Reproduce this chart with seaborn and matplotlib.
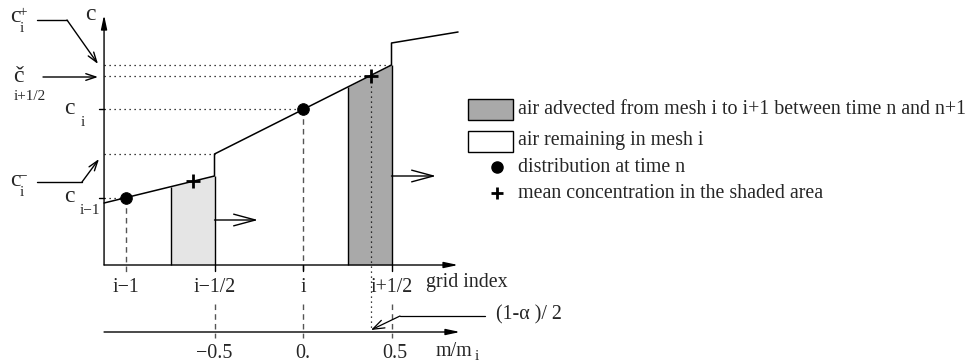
import matplotlib
matplotlib.use("Agg")
import matplotlib.pyplot as plt
import seaborn as sns
import numpy as np
import pandas as pd
from matplotlib.patches import Rectangle

# ---------------- data (grid-index units on x, concentration units on c) -------------
grid_pos = [-1.0, -0.5, 0.0, 0.5]
grid_labels = ["i\u22121", "i\u22121/2", "i", "i+1/2"]
m_ticks = [-0.5, 0.0, 0.5]
m_labels = ["\u22120.5", "0.", "0.5"]

# piecewise-linear profile (with jumps at the cell interfaces)
profile_x = [-1.124, -0.5, -0.5, 0.5, 0.5, 0.876]
profile_c = [0.62, 0.89, 1.11, 2.00, 2.22, 2.33]

dots_x = [-1.0, 0.0]          # distribution at time n
dots_c = [0.67, 1.56]
plus_x = [-0.621, 0.384]      # mean concentration in shaded areas
plus_c = [0.84, 1.89]

light_fill = [-0.746, -0.5]   # shaded area in mesh i-1
dark_fill = [0.254, 0.5]      # shaded area in mesh i

# reference levels on the c axis
level_c = [2.00, 1.89, 1.56, 1.11, 0.67]
level_x = [0.5, 0.384, 0.0, -0.5, -1.0]

axis_x0 = -1.124
axis_x_end = 0.876
m_axis_c = -0.67
c_axis_top = 2.50

# ---------------- figure ----------------
sns.set_theme(style="white")
plt.rcParams["font.family"] = ["Liberation Serif", "DejaVu Serif"]
plt.rcParams["mathtext.fontset"] = "stix"

SX, SY, OX, OY = 177.0, 100.0, 303.0, 265.0
def P(px, py):
    return ((px - OX) / SX, (OY - py) / SY)

fig = plt.figure(figsize=(9.73, 3.62), dpi=100)
ax = fig.add_axes([0, 0, 1, 1])

FS = 14.4
BIG = 17
SUB = 11

# shaded areas
for rng, col in [(light_fill, "#e5e5e5"), (dark_fill, "#a9a9a9")]:
    xs = np.linspace(rng[0], rng[1], 30)
    seg = slice(0, 2) if rng[1] <= -0.5 else slice(2, 4)
    cs = np.interp(xs, profile_x[seg], profile_c[seg])
    ax.fill_between(xs, 0, cs, color=col, lw=0, zorder=1)
    ax.vlines(rng[0], 0, cs[0], color="black", lw=1, zorder=3)
    ax.vlines(rng[1], 0, cs[-1], color="black", lw=1, zorder=3)

# profile
df = pd.DataFrame({"x": profile_x, "c": profile_c})
sns.lineplot(data=df, x="x", y="c", sort=False, estimator=None, color="black",
             lw=1.1, ax=ax, zorder=4)

# dotted level lines
for c, x in zip(level_c, level_x):
    ax.plot([axis_x0, x], [c, c], color="black", lw=0.9, ls=(0, (1, 3)), zorder=2)
# dotted vertical for mean of dark area
ax.plot([plus_x[1], plus_x[1]], [plus_c[1], m_axis_c + 0.02], color="black",
        lw=0.9, ls=(0, (1, 3)), zorder=2)

# dashed verticals
dash = dict(color="#555555", lw=1.0, ls=(0, (4, 3)), zorder=2)
ax.plot([dots_x[0]] * 2, [dots_c[0], P(0, 273)[1]], **dash)
ax.plot([dots_x[1]] * 2, [dots_c[1], P(0, 273)[1]], **dash)
for gx in m_ticks:
    ax.plot([gx] * 2, [P(0, 304)[1], P(0, 338)[1]], **dash)

# ticks
for gx in grid_pos[1:]:
    ax.plot([gx, gx], [0, P(0, 271)[1]], color="black", lw=1, zorder=3)
for c in [level_c[2], level_c[4]]:
    ax.plot([P(99, 0)[0], axis_x0], [c, c], color="black", lw=1, zorder=3)

# axes with arrows
def arrow(p0, p1, style, lw=1.0):
    ax.annotate("", xy=p1, xytext=p0,
                arrowprops=dict(arrowstyle=style, lw=lw, color="black",
                                shrinkA=0, shrinkB=0), zorder=5)

arrow((axis_x0, 0), (axis_x0, c_axis_top), "-|>,head_length=0.7,head_width=0.15")
arrow((axis_x0, 0), (axis_x_end, 0), "-|>,head_length=0.7,head_width=0.15")
arrow((axis_x0, m_axis_c), (P(460, 0)[0], m_axis_c), "-|>,head_length=0.7,head_width=0.15")

# advection arrows
arrow((-0.5, 0.45), (P(258, 0)[0], 0.45), "->,head_length=1.3,head_width=0.35")
arrow((0.5, 0.89), (P(436, 0)[0], 0.89), "->,head_length=1.3,head_width=0.35")

# markers
sns.scatterplot(x=dots_x, y=dots_c, color="black", s=70, marker="o",
                edgecolor="black", ax=ax, zorder=6)
sns.scatterplot(x=plus_x, y=plus_c, color="black", s=90, marker="+",
                linewidth=2, ax=ax, zorder=6)

# tick labels
for gx, lab in zip(grid_pos, grid_labels):
    ax.text(gx, P(0, 288)[1], lab, ha="center", va="center", fontsize=FS)
ax.text(*P(426, 282), "grid index", ha="left", va="center", fontsize=FS)
for gx, lab in zip(m_ticks, m_labels):
    ax.text(gx + (3 / SX if gx > 0 else 0), P(0, 353)[1], lab, ha="center",
            va="center", fontsize=FS)
ax.text(*P(436, 352), "m/m", ha="left", va="center", fontsize=FS)
ax.text(*P(475, 357), "i", ha="left", va="center", fontsize=SUB)

# (1-alpha)/2 annotation
ax.plot([P(400, 0)[0], P(485, 0)[0]], [P(0, 316)[1]] * 2, color="black", lw=0.9)
arrow(P(400, 316), (plus_x[1], m_axis_c + 0.02), "->,head_length=0.7,head_width=0.25", lw=0.9)
ax.text(*P(496, 315), "(1-\u03b1 )/ 2", ha="left", va="center", fontsize=FS)

# c axis labels
ax.text(*P(90, 14), "c", ha="center", va="center", fontsize=BIG)
# c_i^+
ax.text(*P(15, 17), "c", ha="center", va="center", fontsize=BIG)
ax.text(*P(23, 13), "+", ha="center", va="center", fontsize=SUB)
ax.text(*P(22, 28), "i", ha="center", va="center", fontsize=SUB)
ax.plot([P(37, 0)[0], P(67, 0)[0]], [P(0, 20)[1]] * 2, color="black", lw=1)
arrow(P(67, 20), P(98, 64), "->,head_length=0.6,head_width=0.2")
# c breve i+1/2
ax.text(*P(18, 77), "\u010d", ha="center", va="center", fontsize=BIG)
ax.text(*P(30, 97), "i+1/2", ha="center", va="center", fontsize=SUB)
arrow(P(43, 77), P(98, 77), "->,head_length=0.6,head_width=0.2")
# c_i
ax.text(*P(69, 109), "c", ha="center", va="center", fontsize=BIG)
ax.text(*P(83, 122), "i", ha="center", va="center", fontsize=SUB)
# c_i^-
ax.text(*P(15, 181), "c", ha="center", va="center", fontsize=BIG)
ax.text(*P(23, 176), "\u2212", ha="center", va="center", fontsize=SUB)
ax.text(*P(22, 193), "i", ha="center", va="center", fontsize=SUB)
ax.plot([P(37, 0)[0], P(82, 0)[0]], [P(0, 182)[1]] * 2, color="black", lw=1)
arrow(P(82, 182), P(99, 159), "->,head_length=0.6,head_width=0.2")
# c_{i-1}
ax.text(*P(69, 197), "c", ha="center", va="center", fontsize=BIG)
ax.text(*P(90, 211), "i\u22121", ha="center", va="center", fontsize=SUB)

# legend (drawn manually)
x0, y0 = P(468, 120)
x1, y1 = P(513, 99)
ax.add_patch(Rectangle((x0, y0), x1 - x0, y1 - y0, facecolor="#a9a9a9",
                       edgecolor="black", lw=1))
x0, y0 = P(468, 152)
x1, y1 = P(513, 131)
ax.add_patch(Rectangle((x0, y0), x1 - x0, y1 - y0, facecolor="white",
                       edgecolor="black", lw=1))
ax.plot(*P(497, 167), marker="o", color="black", ms=8)
ax.plot(*P(497, 193), marker="+", color="black", ms=9, mew=2)
ax.text(*P(518, 110), "air advected from mesh i to i+1 between time n and n+1",
        ha="left", va="center", fontsize=FS)
ax.text(*P(518, 141), "air remaining in mesh i", ha="left", va="center", fontsize=FS)
ax.text(*P(518, 167), "distribution at time n", ha="left", va="center", fontsize=FS)
ax.text(*P(518, 194), "mean concentration in the shaded area", ha="left",
        va="center", fontsize=FS)

ax.set_xlim(P(0, 0)[0], P(973, 0)[0])
ax.set_ylim(P(0, 362)[1], P(0, 0)[1])
ax.axis("off")

fig.savefig("out.png", dpi=100)
